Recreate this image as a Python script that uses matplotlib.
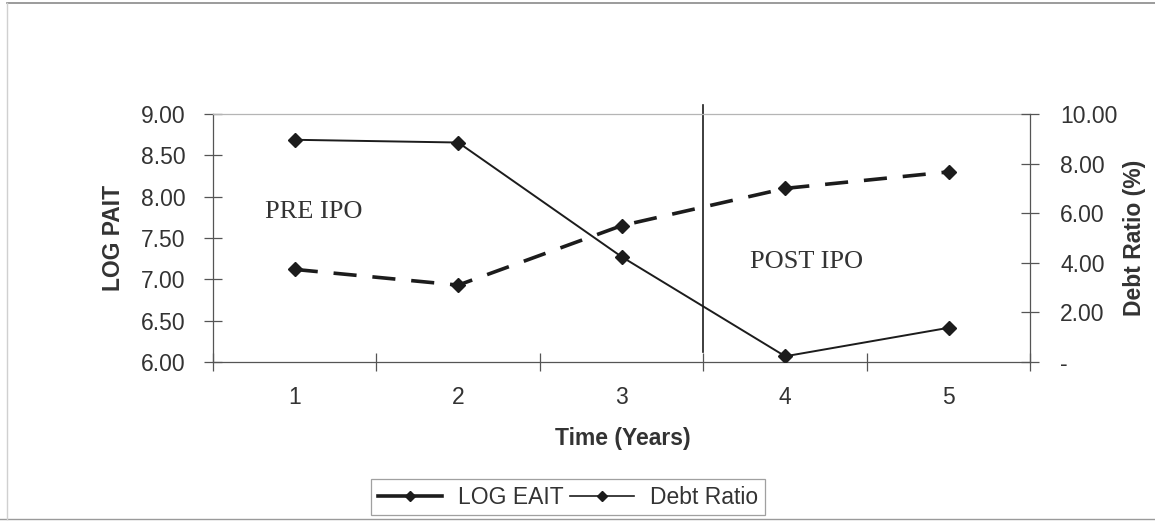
"""LOG EAIT vs debt ratio over the five years around the IPO.

Dashed line on the left axis (log earnings after tax), solid line on the right
axis (debt ratio, %). A vertical rule between years 3 and 4 separates the pre-
and post-IPO periods. Writes out.png.
"""
import matplotlib
matplotlib.use("Agg")
import matplotlib.pyplot as plt
from matplotlib.ticker import FixedLocator, FuncFormatter, NullFormatter
from matplotlib.lines import Line2D

years = [1, 2, 3, 4, 5]
log_eait = [7.12, 6.93, 7.65, 8.10, 8.30]
debt_ratio = [8.96, 8.85, 4.24, 0.23, 1.38]

left_ticks = [6.00, 6.50, 7.00, 7.50, 8.00, 8.50, 9.00]
right_ticks = [0, 2, 4, 6, 8, 10]
ipo_split = 3.5

INK = "#1c1c1c"
TXT = "#333333"
FS = 16.5


def money_fmt(v, _pos):
    # accounting-style labels: zero shows as a dash
    return "-" if abs(v) < 1e-9 else f"{v:.2f}"


def main():
    plt.rcParams["font.family"] = ["Liberation Sans", "DejaVu Sans"]
    fig = plt.figure(figsize=(11.55, 5.21), dpi=100)
    ax = fig.add_axes([0.1844, 0.3052, 0.7078, 0.476])
    ax2 = ax.twinx()

    # left axis: LOG EAIT, dashed
    ax.plot(years, log_eait, color=INK, lw=2.6, dashes=(6.4, 4.4),
            marker="D", ms=7.5, mfc=INK, mec=INK, label="LOG EAIT", zorder=3)
    ax.set_xlim(0.5, 5.5)
    ax.set_ylim(left_ticks[0], left_ticks[-1])
    ax.set_yticks(left_ticks)
    ax.yaxis.set_major_formatter(FuncFormatter(lambda v, p: f"{v:.2f}"))

    # right axis: debt ratio, thin solid
    ax2.plot(years, debt_ratio, color=INK, lw=1.4, marker="D", ms=7.5,
             mfc=INK, mec=INK, label="Debt Ratio", zorder=3)
    ax2.set_ylim(right_ticks[0], right_ticks[-1])
    ax2.set_yticks(right_ticks)
    ax2.yaxis.set_major_formatter(FuncFormatter(money_fmt))

    # category-style x axis: ticks between years, labels centred
    ax.xaxis.set_major_locator(FixedLocator([y - 0.5 for y in years] + [years[-1] + 0.5]))
    ax.xaxis.set_major_formatter(NullFormatter())
    ax.xaxis.set_minor_locator(FixedLocator(years))
    ax.set_xticks(years, [str(y) for y in years], minor=True)
    ax.tick_params(axis="x", which="major", direction="inout", length=13,
                   width=0.9, color="#555555")
    ax.tick_params(axis="x", which="minor", length=0, pad=17,
                   labelsize=FS, labelcolor=TXT)
    ax.tick_params(axis="y", direction="inout", length=13, width=0.9,
                   color="#555555", pad=13.3, labelsize=FS, labelcolor=TXT)
    ax2.tick_params(axis="y", direction="inout", length=13, width=0.9,
                    color="#555555", pad=15, labelsize=FS, labelcolor=TXT)

    for a in (ax, ax2):
        for s in a.spines.values():
            s.set_color("#555555")
            s.set_linewidth(0.9)
        a.spines["top"].set_color("#b5b5b5")
    ax.spines["right"].set_visible(False)
    for side in ("left", "bottom", "top"):
        ax2.spines[side].set_visible(False)

    # pre / post IPO divider
    ax.plot([ipo_split, ipo_split], [6.125, 9.11], color=INK, lw=1.2,
            clip_on=False, zorder=2)
    ax.text(0.818, 7.738, "PRE IPO", family=["Liberation Serif", "DejaVu Serif"],
            fontsize=19, color=TXT, ha="left", va="baseline")
    ax.text(3.784, 7.133, "POST IPO", family=["Liberation Serif", "DejaVu Serif"],
            fontsize=19, color=TXT, ha="left", va="baseline")

    ax.set_ylabel("LOG PAIT", fontsize=FS, fontweight="bold", color=TXT, va="center")
    ax.yaxis.set_label_coords(-0.1223, 0.5)
    ax2.set_ylabel("Debt Ratio (%)", fontsize=FS, fontweight="bold", color=TXT, va="center")
    ax2.yaxis.set_label_coords(1.1278, 0.5)
    ax.set_xlabel("Time (Years)", fontsize=FS, fontweight="bold", color=TXT, va="center")
    ax.xaxis.set_label_coords(0.501, -0.3065)

    # legend keys: short heavy stroke for the dashed series, thin for the solid
    handles = [
        Line2D([], [], color=INK, lw=2.6, marker="D", ms=5.5, mfc=INK, mec=INK),
        Line2D([], [], color=INK, lw=1.2, marker="D", ms=5, mfc=INK, mec=INK),
    ]
    leg = fig.legend(handles, ["LOG EAIT", "Debt Ratio"], loc="center",
                     bbox_to_anchor=(0.4918, 0.046), ncol=2, fontsize=FS,
                     handlelength=2.8, handletextpad=0.7, columnspacing=0.3,
                     borderpad=0.3, borderaxespad=0, fancybox=False,
                     frameon=True, labelcolor=TXT)
    leg.get_frame().set_edgecolor("#888888")
    leg.get_frame().set_linewidth(0.9)

    # outer chart border
    fig.add_artist(Line2D([7 / 1155, 1], [1 - 3 / 521] * 2, transform=fig.transFigure,
                          color="#8a8a8a", lw=1.2))
    fig.add_artist(Line2D([0, 1], [2 / 521] * 2, transform=fig.transFigure,
                          color="#9a9a9a", lw=1.0))
    fig.add_artist(Line2D([7 / 1155] * 2, [2 / 521, 1 - 3 / 521],
                          transform=fig.transFigure, color="#d0d0d0", lw=1.0))

    fig.savefig("out.png", dpi=100)


if __name__ == "__main__":
    main()
